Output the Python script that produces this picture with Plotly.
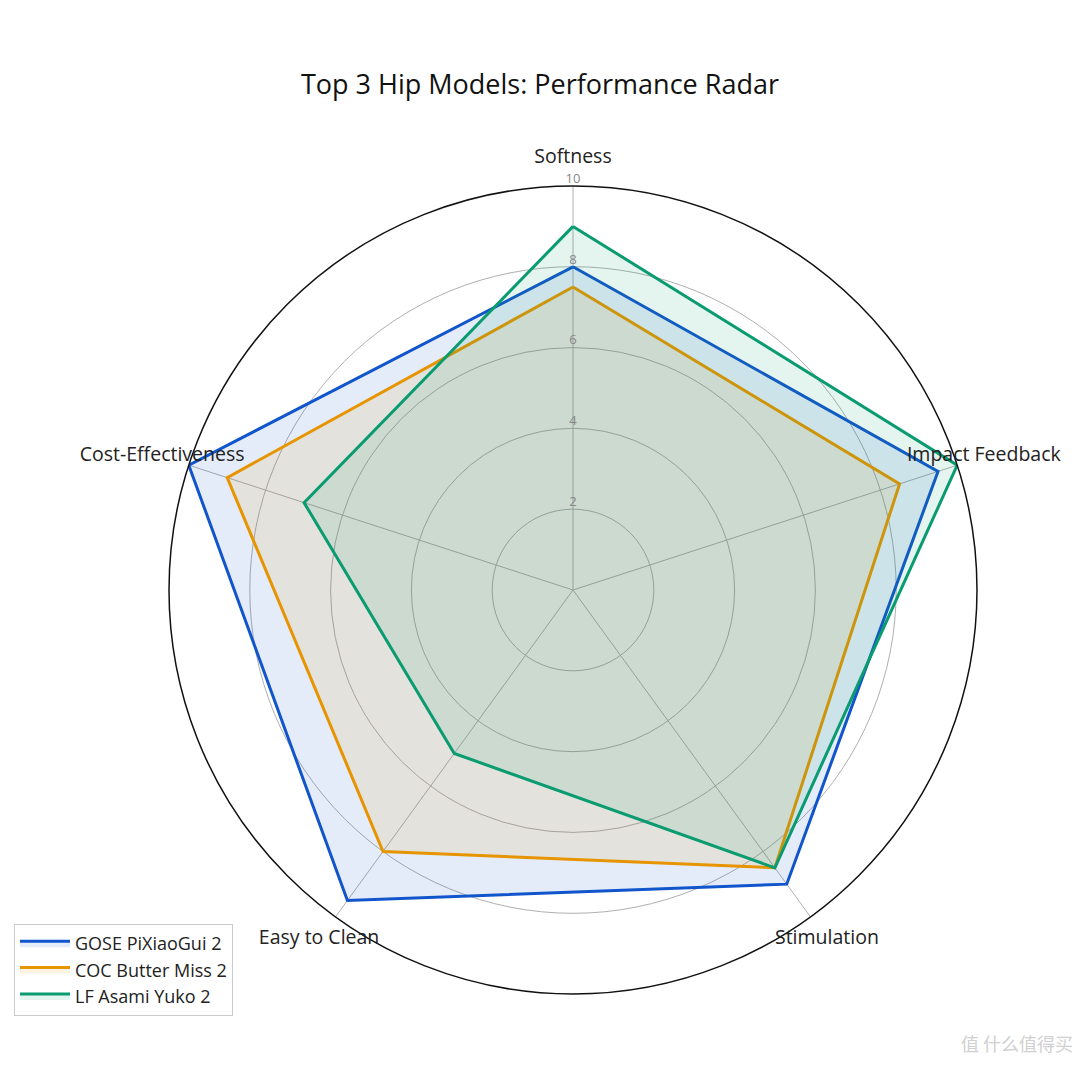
import plotly.graph_objects as go

categories = ["Softness", "Impact Feedback", "Stimulation", "Easy to Clean", "Cost-Effectiveness"]
series_names = ["GOSE PiXiaoGui 2", "COC Butter Miss 2", "LF Asami Yuko 2"]
gose = [8, 9.5, 9, 9.5, 10]
coc = [7.5, 8.5, 8.5, 8, 9]
lf = [9, 10, 8.5, 5, 7]
radial_ticks = [2, 4, 6, 8, 10]

colors = ["#1155CC", "#E69500", "#0A9B70"]
fills = ["rgba(17,85,204,0.11)", "rgba(230,149,0,0.11)", "rgba(10,155,112,0.11)"]

FONT = "Open Sans"
W = 1080
CX, CY, R = 573, 590, 404          # plot circle centre and radius (px)
LABEL_R = 432                      # radius at which category labels sit (px)

fig = go.Figure()

for name, vals, c, f in zip(series_names, [gose, coc, lf], colors, fills):
    fig.add_trace(go.Scatterpolar(
        r=vals + [vals[0]], theta=categories + [categories[0]],
        mode="lines", name=name, line=dict(color=c, width=3),
        fill="toself", fillcolor=f,
    ))

# radial tick labels along the Softness spoke
fig.add_trace(go.Scatterpolar(
    r=radial_ticks, theta=[categories[0]] * len(radial_ticks), mode="text",
    text=[str(v) for v in radial_ticks], textposition="top center",
    textfont=dict(size=13, color="#888", family=FONT),
    showlegend=False, hoverinfo="skip", cliponaxis=False,
))

# category labels on a second (invisible) polar overlay with a larger radius
fig.add_trace(go.Scatterpolar(
    r=[10] * len(categories), theta=categories, mode="text", text=categories,
    textposition="middle center", textfont=dict(size=19.5, color="#222", family=FONT),
    showlegend=False, hoverinfo="skip", cliponaxis=False, subplot="polar2",
))

hidden_radial = dict(range=[0, 10], visible=False, showgrid=False, showline=False, showticklabels=False, ticks="")
hidden_angular = dict(rotation=90, direction="clockwise", showgrid=False, showline=False,
                      showticklabels=False, ticks="")

fig.update_layout(
    width=W, height=W,
    margin=dict(l=0, r=0, t=0, b=0),
    paper_bgcolor="white",
    font=dict(family=FONT, color="#222"),
    title=dict(text="Top 3 Hip Models: Performance Radar", x=0.5, xanchor="center",
               y=1 - 85 / W, yanchor="middle", font=dict(size=27, color="#111", family=FONT)),
    polar=dict(
        domain=dict(x=[(CX - R) / W, (CX + R) / W], y=[1 - (CY + R) / W, 1 - (CY - R) / W]),
        bgcolor="white",
        radialaxis=dict(range=[0, 10], tickvals=radial_ticks, showticklabels=False,
                        gridcolor="#b0b0b0", gridwidth=1.2, showline=False, ticks=""),
        angularaxis=dict(rotation=90, direction="clockwise", showticklabels=False,
                         gridcolor="#b0b0b0", gridwidth=1.2, linecolor="#111", linewidth=1.5,
                         ticks=""),
    ),
    polar2=dict(
        domain=dict(x=[(CX - LABEL_R) / W, (CX + LABEL_R) / W],
                    y=[1 - (CY + LABEL_R) / W, 1 - (CY - LABEL_R) / W]),
        bgcolor="rgba(0,0,0,0)",
        radialaxis=hidden_radial,
        angularaxis=hidden_angular,
    ),
    legend=dict(x=14 / W, y=1 - 924 / W, xanchor="left", yanchor="top",
                bgcolor="white", bordercolor="#cccccc", borderwidth=1,
                itemwidth=50, tracegroupgap=0,
                font=dict(size=18, color="#222", family=FONT)),
    annotations=[dict(text="值 什么值得买", x=0.995, y=0.02, xref="paper", yref="paper",
                      xanchor="right", yanchor="bottom", showarrow=False,
                      font=dict(size=18, color="#d0d0d0", family="Noto Sans CJK SC"))],
)

fig.write_html("out.html")
